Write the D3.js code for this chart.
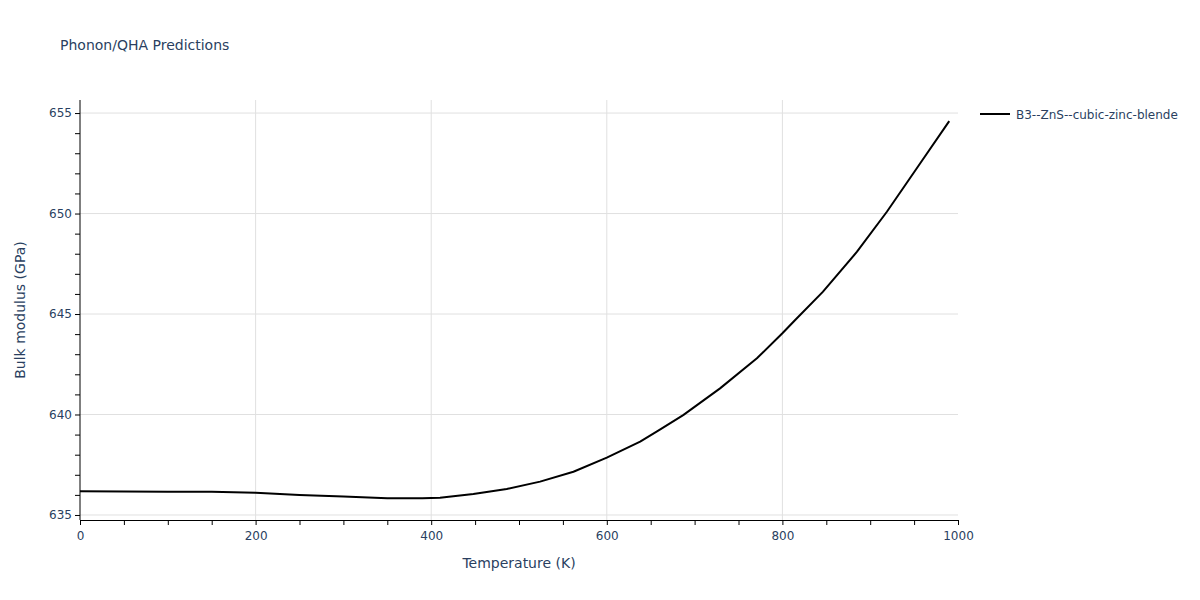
<!DOCTYPE html>
<html lang="en">
<head>
    <meta charset="UTF-8">
    <title>Phonon/QHA Predictions</title>
    <style>
        body { margin: 0; background: #fff; }
        svg { font-family: "DejaVu Sans", Verdana, sans-serif; }
    </style>
</head>
<body>
    <div id="chart"></div>

    <script src="https://d3js.org/d3.v7.min.js"></script>

    <script>
        // temperature (K) and bulk modulus (GPa)
        const temperature = [0, 50, 100, 150, 200, 250, 300, 350, 390, 410, 448, 486, 524, 562,
                             600, 638, 660, 687, 729, 771, 800, 814, 846, 885, 919, 957, 990];
        const bulkModulus = [636.18, 636.17, 636.16, 636.15, 636.1, 636.0, 635.92, 635.83, 635.83,
                             635.86, 636.04, 636.29, 636.66, 637.15, 637.85, 638.65, 639.23, 639.97,
                             641.3, 642.8, 644.04, 644.68, 646.1, 648.1, 650.09, 652.5, 654.6];
        const seriesName = "B3--ZnS--cubic-zinc-blende";
        const xTicks = [0, 200, 400, 600, 800, 1000];
        const yTicks = [635, 640, 645, 650, 655];

        const width = 1200, height = 600;
        const plotLeft = 80, plotRight = 958, plotTop = 100, plotBottom = 520;
        const textColor = "#2a3f5f";

        const svg = d3.select("#chart").append("svg")
            .attr("width", width)
            .attr("height", height);

        const x = d3.scaleLinear().domain([0, 1000]).range([plotLeft, plotRight]);
        const y = d3.scaleLinear().domain([634.75, 655.65]).range([plotBottom, plotTop]);

        // grid lines
        svg.append("g").selectAll("line")
            .data(yTicks)
            .join("line")
                .attr("x1", plotLeft).attr("x2", plotRight)
                .attr("y1", d => y(d)).attr("y2", d => y(d))
                .attr("stroke", "#e0e0e0").attr("stroke-width", 1);
        svg.append("g").selectAll("line")
            .data(xTicks.filter(d => d > 0 && d < 1000))
            .join("line")
                .attr("x1", d => x(d)).attr("x2", d => x(d))
                .attr("y1", plotTop).attr("y2", plotBottom)
                .attr("stroke", "#e0e0e0").attr("stroke-width", 1);

        // x axis: minor ticks every 50, labels every 200
        const xAxis = svg.append("g").attr("transform", `translate(0,${plotBottom})`)
            .call(d3.axisBottom(x).tickValues(d3.range(0, 1001, 50)).tickSize(5).tickFormat(""));
        xAxis.select(".domain").attr("stroke", "#000");
        xAxis.selectAll(".tick line").attr("stroke", "#000");
        svg.append("g").attr("transform", `translate(0,${plotBottom})`)
            .call(d3.axisBottom(x).tickValues(xTicks).tickSize(0).tickPadding(11).tickFormat(d3.format("d")))
            .call(g => g.select(".domain").remove())
            .selectAll("text")
                .attr("fill", textColor).style("font-size", "12px")
                .style("font-family", "\"DejaVu Sans\", sans-serif");

        // y axis: minor ticks every 1, labels every 5
        const yAxis = svg.append("g").attr("transform", `translate(${plotLeft},0)`)
            .call(d3.axisLeft(y).tickValues(d3.range(635, 656, 1)).tickSize(5).tickFormat(""));
        yAxis.select(".domain").attr("stroke", "#000")
            .attr("d", `M0,${plotBottom}V${plotTop}`);
        yAxis.selectAll(".tick line").attr("stroke", "#000");
        svg.append("g").attr("transform", `translate(${plotLeft},0)`)
            .call(d3.axisLeft(y).tickValues(yTicks).tickSize(0).tickPadding(8))
            .call(g => g.select(".domain").remove())
            .selectAll("text")
                .attr("fill", textColor).style("font-size", "12px")
                .style("font-family", "\"DejaVu Sans\", sans-serif");

        // the curve
        const line = d3.line()
            .x((d, i) => x(temperature[i]))
            .y(d => y(d));
        svg.append("path")
            .datum(bulkModulus)
            .attr("fill", "none")
            .attr("stroke", "#000")
            .attr("stroke-width", 2)
            .attr("stroke-linejoin", "round")
            .attr("d", line);

        // titles
        svg.append("text")
            .attr("x", 60).attr("y", 50)
            .attr("fill", textColor).style("font-size", "14px")
            .text("Phonon/QHA Predictions");
        svg.append("text")
            .attr("x", (plotLeft + plotRight) / 2).attr("y", 568)
            .attr("text-anchor", "middle")
            .attr("fill", textColor).style("font-size", "14px")
            .text("Temperature (K)");
        svg.append("text")
            .attr("transform", `translate(25,${(plotTop + plotBottom) / 2}) rotate(-90)`)
            .attr("text-anchor", "middle")
            .attr("fill", textColor).style("font-size", "14px")
            .text("Bulk modulus (GPa)");

        // legend
        const legend = svg.append("g").attr("transform", "translate(980,114)");
        legend.append("line")
            .attr("x1", 0).attr("x2", 30)
            .attr("stroke", "#000").attr("stroke-width", 2);
        legend.append("text")
            .attr("x", 36).attr("y", 4.5)
            .attr("fill", textColor).style("font-size", "12px")
            .text(seriesName);
    </script>
</body>
</html>
